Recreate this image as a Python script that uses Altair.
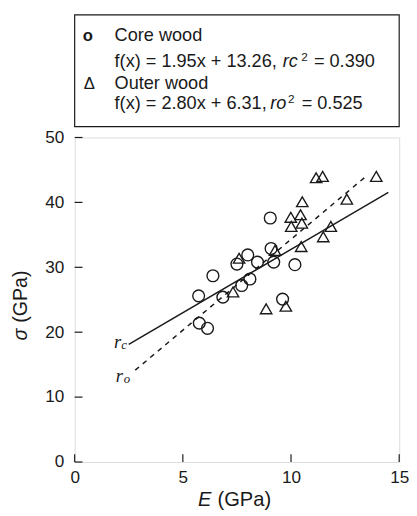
import altair as alt
import pandas as pd

# ---- data ----
core_E = [9.04, 9.08, 8.00, 7.50, 8.45, 9.20, 10.18, 6.39, 8.10, 7.72, 5.73, 6.85, 9.61, 5.76, 6.14]
core_s = [37.6, 32.9, 31.9, 30.5, 30.8, 30.8, 30.4, 28.7, 28.2, 27.2, 25.6, 25.4, 25.1, 21.4, 20.6]
outer_E = [11.16, 11.46, 13.94, 10.52, 12.58, 9.99, 10.44, 10.01, 10.50, 11.84, 11.49, 10.47,
           9.26, 7.60, 7.32, 8.85, 9.76]
outer_s = [43.8, 44.0, 44.0, 40.1, 40.5, 37.7, 38.1, 36.3, 36.8, 36.3, 34.7, 33.2,
           32.6, 31.4, 26.2, 23.6, 24.0]

# regression lines as stated in the legend, and the x-range over which each is drawn
core_fit = (1.95, 13.26)
outer_fit = (2.80, 6.31)
core_range = [2.5, 14.5]
outer_range = [2.8, 13.5]

x_ticks = [0, 5, 10, 15]
y_ticks = [0, 10, 20, 30, 40, 50]

INK = "#1a1a1a"
SANS = "Liberation Sans"
SERIF = "Liberation Serif"
W, H = 331, 331
LF = 18.5   # legend font size

core_df = pd.DataFrame({"E": core_E, "s": core_s})
outer_df = pd.DataFrame({"E": outer_E, "s": outer_s})
core_line = pd.DataFrame({"E": core_range, "s": [core_fit[0] * e + core_fit[1] for e in core_range]})
outer_line = pd.DataFrame({"E": outer_range, "s": [outer_fit[0] * e + outer_fit[1] for e in outer_range]})
xt = pd.DataFrame({"v": x_ticks})
yt = pd.DataFrame({"v": y_ticks})
one = pd.DataFrame({"a": [0]})

xs = alt.Scale(domain=[0, 15], nice=False, zero=False)
ys = alt.Scale(domain=[0, 50], nice=False, zero=False)
xax = alt.Axis(values=x_ticks, ticks=False, domain=False, grid=False, labelFontSize=17.5,
               labelFont=SANS, labelColor=INK, labelPadding=7, title=None, labelFlush=False)
yax = alt.Axis(values=y_ticks, ticks=False, domain=False, grid=False, labelFontSize=17.5,
               labelFont=SANS, labelColor=INK, labelPadding=11, title=None)

core_pts = alt.Chart(core_df).mark_point(shape="circle", size=145, filled=False, stroke=INK,
                                         strokeWidth=1.4, opacity=1).encode(
    x=alt.X("E:Q", scale=xs, axis=xax), y=alt.Y("s:Q", scale=ys, axis=yax))
outer_pts = alt.Chart(outer_df).mark_point(shape="triangle-up", size=135, filled=False, stroke=INK,
                                           strokeWidth=1.4, opacity=1).encode(
    x=alt.X("E:Q", scale=xs), y=alt.Y("s:Q", scale=ys))
l_core = alt.Chart(core_line).mark_line(color=INK, strokeWidth=1.5).encode(
    x=alt.X("E:Q", scale=xs), y=alt.Y("s:Q", scale=ys))
l_outer = alt.Chart(outer_line).mark_line(color=INK, strokeWidth=1.5, strokeDash=[5, 5]).encode(
    x=alt.X("E:Q", scale=xs), y=alt.Y("s:Q", scale=ys))

# inward ticks
yticks = alt.Chart(yt).mark_rule(color=INK, strokeWidth=1.2).encode(
    y=alt.Y("v:Q", scale=ys), x=alt.value(0), x2=alt.value(8))
xticks = alt.Chart(xt).mark_rule(color=INK, strokeWidth=1.2).encode(
    x=alt.X("v:Q", scale=xs), y=alt.value(H), y2=alt.value(H - 8))


def label(txt, x, y, size=LF, style="normal", font=SANS, align="left", angle=0,
          baseline="alphabetic", weight="normal"):
    return alt.Chart(one).mark_text(fontSize=size, fontStyle=style, font=font, align=align,
                                    baseline=baseline, angle=angle, color=INK,
                                    fontWeight=weight).encode(
        x=alt.value(x), y=alt.value(y), text=alt.value(txt))


legend_box = alt.Chart(one).mark_rect(fillOpacity=0, stroke=INK, strokeWidth=1.2).encode(
    x=alt.value(0), x2=alt.value(W), y=alt.value(-125), y2=alt.value(-11))

texts = [
    # legend
    label("o", 13.5, -98.5, size=17, weight="bold", align="center"),
    label("Core wood", 40.7, -98.3),
    label("f(x) = 1.95x + 13.26,", 40.7, -71.7),
    label("rc", 212.3, -71.7, style="italic"),
    label("2", 231, -78, size=12),
    label("= 0.390", 244, -71.7),
    label("Δ", 15, -49.5, size=17, align="center"),
    label("Outer wood", 40.7, -49),
    label("f(x) = 2.80x + 6.31,", 40.7, -29),
    label("ro", 199.5, -29, style="italic"),
    label("2", 217.5, -35.3, size=12),
    label("= 0.525", 231.5, -29),
    # line labels
    label("r", 40, 215, size=19, style="italic", font=SERIF),
    label("c", 47.5, 216, size=13, style="italic", font=SERIF),
    label("r", 42, 249, size=19, style="italic", font=SERIF),
    label("o", 50, 250, size=13, style="italic", font=SERIF),
    # axis titles
    label("E", 125.7, 376, size=20.5, style="italic"),
    label("(GPa)", 145.7, 376, size=20.5),
    label("σ", -49, 207, size=20, style="italic", angle=270),
    label("(GPa)", -49, 189, size=20, angle=270),
]

chart = alt.layer(core_pts, outer_pts, l_core, l_outer, yticks, xticks, legend_box, *texts).properties(
    width=W, height=H,
    autosize=alt.AutoSizeParams(type="none"),
    padding={"left": 68, "top": 127, "right": 10, "bottom": 50}
).configure_view(stroke=INK, strokeWidth=1.3).configure(background="white")

chart.save("out.html", embed_options={"renderer": "svg", "actions": False})
